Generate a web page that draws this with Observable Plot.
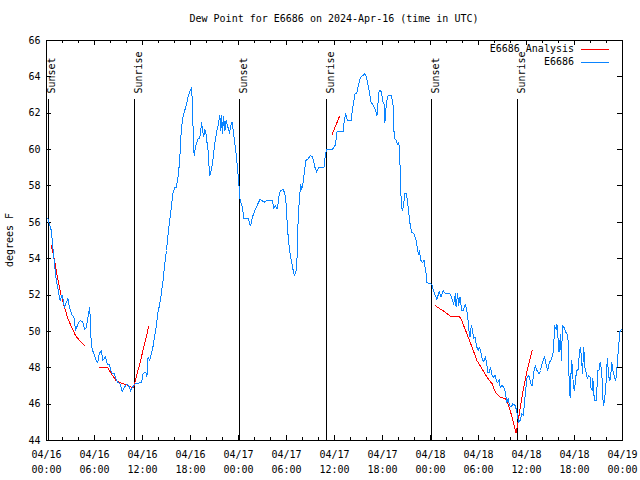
<!DOCTYPE html>
<html>
<head>
<meta charset="utf-8">
<script src="https://cdn.jsdelivr.net/npm/d3@7"></script>
<script src="https://cdn.jsdelivr.net/npm/@observablehq/plot@0.6"></script>
<style>
  html, body { margin: 0; padding: 0; background: #fff; }
  #chart { position: relative; width: 640px; height: 480px; }
  #chart svg { shape-rendering: crispEdges; }
</style>
</head>
<body>
<div id="chart"></div>
<script>
// ---- data (hours since 2024-04-16 00:00 UTC) ----
const titleText = "Dew Point for E6686 on 2024-Apr-16 (time in UTC)";
const yLabel = "degrees F";
const seriesNames = ["E6686 Analysis", "E6686"];
const seriesColors = ["#ff0000", "#0a84ff"];

const blueHours = [0.16,0.6,0.8,1.0,1.2,1.4,1.7,1.96,2.25,2.67,2.88,3.17,3.42,3.63,3.92,4.2,4.55,4.76,4.97,5.2,5.38,5.5,5.55,5.7,6.0,6.2,6.4,6.6,6.85,7.05,7.35,7.6,7.9,8.0,8.2,8.5,8.64,8.93,9.2,9.47,9.77,9.98,10.2,10.4,10.5,10.7,11.0,11.5,11.9,12.06,12.4,12.55,12.7,12.9,13.1,13.3,13.5,13.7,13.9,14.15,14.35,14.57,14.78,15.0,15.2,15.4,15.6,15.8,16.0,16.2,16.45,16.65,16.86,17.07,17.28,17.5,17.7,17.9,18.1,18.24,18.32,18.45,18.6,18.8,18.95,19.15,19.4,19.5,19.65,19.8,19.9,20.0,20.2,20.3,20.4,20.6,20.8,21.0,21.25,21.45,21.66,21.8,21.9,22.0,22.15,22.3,22.45,22.7,22.9,23.0,23.2,23.3,23.5,23.75,23.9,24.05,24.17,24.5,24.67,25.2,25.5,25.75,26.05,26.3,26.67,26.9,27.2,27.5,27.9,28.25,28.4,28.6,28.85,29.05,29.25,29.6,29.8,30.0,30.1,30.35,30.55,30.77,30.97,31.18,31.35,31.45,31.6,31.77,31.9,32.05,32.2,32.43,32.7,33.0,33.25,33.55,33.77,34.0,34.25,34.7,34.85,35.0,35.6,35.85,36.15,36.27,36.4,37.1,37.2,37.4,37.5,37.6,38.07,38.23,38.36,38.57,38.78,38.98,39.19,39.4,39.6,39.8,40.0,40.2,40.4,40.57,40.77,40.95,41.15,41.3,41.4,41.5,41.7,41.9,42.0,42.2,42.3,42.5,42.7,43.1,43.3,43.4,43.45,43.7,43.85,44.0,44.1,44.2,44.3,44.4,44.5,44.6,44.8,45.0,45.1,45.3,45.45,45.65,45.95,46.2,46.4,46.5,46.6,46.8,47.0,47.2,47.25,47.45,47.55,47.75,48.17,48.3,48.6,48.8,49.0,49.1,49.3,49.45,49.6,49.85,50.45,50.6,50.9,51.1,51.2,51.4,51.5,51.7,51.9,52.1,52.35,52.5,52.65,52.8,52.95,53.1,53.2,53.4,53.55,53.8,53.95,54.1,54.25,54.45,54.65,54.85,55.0,55.15,55.35,55.5,55.7,55.9,56.1,56.23,56.4,56.6,56.7,56.93,57.15,57.35,57.55,57.7,57.9,58.1,58.3,58.6,58.8,59.0,59.2,59.4,59.6,59.77,59.9,60.07,60.3,60.55,60.7,60.85,60.97,61.1,61.3,61.6,61.75,62.0,62.25,62.4,62.65,62.85,63.05,63.27,63.4,63.5,63.7,63.8,63.9,64.07,64.25,64.36,64.5,64.75,64.9,65.1,65.25,65.35,65.5,65.6,65.75,65.85,66.0,66.15,66.3,66.5,66.6,66.75,66.9,67.0,67.15,67.3,67.4,67.6,67.8,67.95,68.0,68.2,68.3,68.4,68.55,68.75,68.9,69.05,69.2,69.4,69.5,69.6,69.75,69.95,70.1,70.25,70.35,70.5,70.65,70.8,70.95,71.1,71.2,71.35,71.45,71.6,71.7,71.9];
const blueValues = [56.2,55.55,54.6,53.7,52.9,52.4,51.7,52.0,51.33,51.8,51.3,50.9,50.8,50.05,50.4,50.6,50.5,50.1,50.2,50.8,51.3,50.6,49.7,49.04,48.67,48.4,48.3,48.77,48.95,48.4,48.6,48.2,48.2,47.85,47.7,47.67,47.4,47.2,47.1,46.7,46.93,47.1,47.05,46.9,46.7,46.9,47.1,47.15,47.2,47.67,47.76,47.5,48.6,48.4,48.77,49.13,49.7,50.2,50.97,51.5,52.07,52.8,53.7,54.45,55.37,56.1,56.83,57.57,57.9,57.9,58.5,59.4,61.2,61.8,62.15,62.5,62.9,63.15,63.4,62.7,61.2,59.67,60.1,60.4,60.6,60.6,61.5,61.05,60.7,61.1,61.0,60.6,59.95,59.2,58.57,58.85,59.4,60.2,60.95,61.3,61.9,61.05,61.9,60.9,61.8,61.05,61.6,61.2,60.9,61.3,61.5,61.2,60.5,59.6,58.85,58.1,57.3,56.8,56.2,56.2,55.8,56.3,56.65,56.9,57.25,57.2,57.1,57.2,57.2,57.2,56.74,56.9,56.74,57.4,57.75,57.8,57.57,56.83,55.73,54.6,54.0,53.5,53.07,53.25,54.27,56.1,57.2,58.1,57.8,58.1,58.67,59.4,59.5,59.67,59.6,59.03,58.76,59.0,59.0,59.03,59.67,60.0,60.0,60.05,60.3,60.95,61.0,61.0,61.5,61.97,61.8,61.6,61.6,62.15,62.5,63.07,63.07,63.52,63.9,64.04,64.1,64.17,63.98,63.52,63.07,62.6,62.5,62.33,62.15,61.87,62.15,63.15,63.25,63.15,62.7,62.5,61.5,62.6,62.97,62.97,62.5,62.15,60.68,60.5,60.3,60.4,60.13,59.03,57.57,56.83,56.65,56.83,57.57,57.57,57.2,56.47,55.9,55.45,55.36,55.0,54.45,54.25,54.45,53.9,53.8,53.9,53.7,53.17,52.7,52.65,52.6,52.34,51.97,51.75,52.07,52.2,51.9,52.07,52.25,52.07,52.07,51.9,51.5,52.07,51.33,52.1,51.42,51.9,51.15,51.15,51.5,51.24,50.87,50.05,49.7,50.32,50.15,49.6,49.7,49.13,48.95,49.13,48.95,48.5,48.33,48.6,48.33,47.76,47.76,48.03,47.57,47.48,47.6,47.26,47.2,47.33,46.93,47.02,46.93,46.66,46.1,46.3,45.92,45.84,46.02,45.92,45.56,45.0,45.1,45.47,45.38,46.2,46.75,47.48,47.57,47.1,47.0,47.48,47.94,48.1,47.85,47.67,47.85,48.3,48.6,48.3,47.85,48.3,48.4,48.67,49.13,50.3,50.1,50.4,49.85,48.85,49.85,48.4,50.3,50.2,49.96,49.85,49.3,46.57,46.38,48.4,48.1,46.93,46.75,47.48,47.85,47.94,48.85,49.13,48.4,47.67,49.13,48.03,47.85,47.4,47.57,47.48,46.93,46.75,47.4,46.57,46.2,46.2,47.85,47.85,48.3,47.85,46.75,45.92,46.2,47.2,48.5,47.76,47.3,47.4,48.3,47.85,47.57,47.3,47.48,48.2,48.85,49.6,50.05,50.1];

// analysis series; null values mark gaps
const redHours = [0.6,1.0,1.4,1.84,2.25,2.67,3.1,3.63,4.13,4.76,5.7,6.64,7.68,8.1,8.7,9.35,9.98,10.6,10.9,11.2,11.65,12.06,12.48,12.77,24.0,35.7,36.6,42.0,48.58,49.2,49.84,50.46,51.6,51.9,52.55,53.2,53.8,54.45,55.06,55.7,56.1,56.7,57.35,57.77,58.2,58.6,58.7,58.9,59.23,59.65,60.07,60.5,60.7];
const redValues = [54.75,53.9,52.9,51.97,51.33,50.7,50.27,49.77,49.5,49.22,null,48.0,48.0,47.67,47.3,47.15,47.06,46.93,46.93,47.48,48.2,48.95,49.7,50.27,null,60.83,61.8,null,51.42,51.24,51.06,50.84,50.84,50.6,49.87,49.13,48.4,47.94,47.48,47.12,46.66,46.38,46.3,45.92,45.28,44.55,44.4,44.92,45.84,46.93,47.85,48.6,48.95];

const sunHours = [0.2, 11.0, 24.13, 35.04, 48.13, 58.9];
const sunLabels = ["Sunset", "Sunrise", "Sunset", "Sunrise", "Sunset", "Sunrise"];

const xMajorHours = [0,6,12,18,24,30,36,42,48,54,60,66,72];
const xMinorHours = [2,4,8,10,14,16,20,22,26,28,32,34,38,40,44,46,50,52,56,58,62,64,68,70];
const yTicks = [44,46,48,50,52,54,56,58,60,62,64,66];
const yDomain = [44, 66];

// ---- build ----
const t0 = Date.UTC(2024, 3, 16);
const toDate = h => new Date(t0 + h * 3600e3);
const blue = blueHours.map((h, i) => ({t: toDate(h), v: blueValues[i]}));
const red = redHours.map((h, i) => ({t: toDate(h), v: redValues[i]}));
const sun = sunHours.map((h, i) => ({t: toDate(h), label: sunLabels[i]}));
const majors = xMajorHours.map(toDate);
const minors = xMinorHours.map(toDate);
const fmtD = d3.utcFormat("%m/%d"), fmtT = d3.utcFormat("%H:%M");

const W = 640, H = 480, mL = 46, mR = 18, mT = 40, mB = 40;
const plotH = H - mT - mB, plotW = W - mL - mR;
const font = "'DejaVu Sans Mono', monospace";

const chart = Plot.plot({
  width: W, height: H,
  marginLeft: mL, marginRight: mR, marginTop: mT, marginBottom: mB,
  style: {fontFamily: font, fontSize: "10px", color: "#000", background: "#fff"},
  x: {type: "utc", domain: [toDate(0), toDate(72)]},
  y: {domain: yDomain},
  marks: [
    Plot.axisX({ticks: majors, tickSize: 0, tickPadding: 7, label: null,
      tickFormat: d => fmtD(d) + "\n" + fmtT(d), lineHeight: 1.5, fill: "#000"}),
    Plot.axisY({ticks: yTicks, tickSize: 0, tickPadding: 6, label: null, tickFormat: d3.format("d"), fill: "#000"}),
    // inward ticks
    Plot.tickX(majors, {x: d => d, insetTop: plotH - 5, stroke: "#000"}),
    Plot.tickX(majors, {x: d => d, insetBottom: plotH - 5, stroke: "#000"}),
    Plot.tickX(minors, {x: d => d, insetTop: plotH - 3, stroke: "#000"}),
    Plot.tickX(minors, {x: d => d, insetBottom: plotH - 3, stroke: "#000"}),
    Plot.tickY(yTicks, {y: d => d, insetRight: plotW - 5, stroke: "#000"}),
    Plot.tickY(yTicks, {y: d => d, insetLeft: plotW - 5, stroke: "#000"}),
    // sunrise / sunset
    Plot.ruleX(sun, {x: "t", insetTop: 59, stroke: "#000", strokeWidth: 1}),
    Plot.text(sun, {x: "t", text: "label", frameAnchor: "top", dy: 53, rotate: -90,
      textAnchor: "start", fill: "#000"}),
    // series
    Plot.line(red, {x: "t", y: "v", stroke: seriesColors[0], strokeWidth: 1}),
    Plot.line(blue, {x: "t", y: "v", stroke: seriesColors[1], strokeWidth: 1}),
    Plot.frame({stroke: "#000"})
  ]
});
document.getElementById("chart").appendChild(chart);

// title, y label, legend
const svg = d3.select(chart);
svg.append("text").attr("x", mL + plotW / 2).attr("y", 19).attr("dy", "0.32em")
  .attr("text-anchor", "middle").attr("fill", "#000").style("font-family", font).style("font-size", "10px")
  .text(titleText);
svg.append("text").attr("transform", `translate(10,${mT + plotH / 2}) rotate(-90)`).attr("dy", "0.32em")
  .attr("text-anchor", "middle").attr("fill", "#000").style("font-family", font).style("font-size", "10px")
  .text(yLabel);
seriesNames.forEach((name, i) => {
  const y = 49 + i * 13;
  svg.append("text").attr("x", 574).attr("y", y).attr("dy", "0.32em").attr("text-anchor", "end")
    .attr("fill", "#000").style("font-family", font).style("font-size", "10px").text(name);
  svg.append("line").attr("x1", 581).attr("x2", 609).attr("y1", y).attr("y2", y)
    .attr("stroke", seriesColors[i]).attr("stroke-width", 1);
});
</script>
</body>
</html>
